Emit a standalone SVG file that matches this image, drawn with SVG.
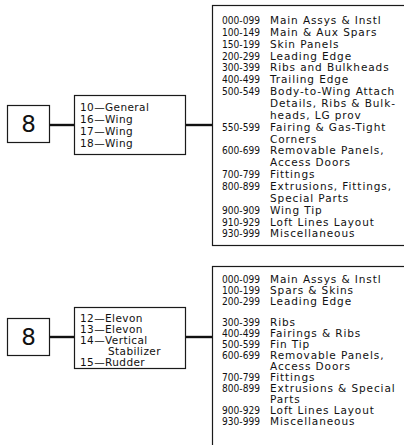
<svg xmlns="http://www.w3.org/2000/svg" width="404" height="445" viewBox="0 0 404 445">
<style>
.box{fill:#fff;stroke:#1a1a1a;stroke-width:1.2}
.con{stroke:#111;stroke-width:2.4;fill:none}
.t{font-family:"DejaVu Sans",sans-serif;font-size:10.5px;fill:#111;letter-spacing:0.9px}
.m{font-family:"DejaVu Sans",sans-serif;font-size:10.5px;fill:#111;letter-spacing:0.4px}
.n{font-family:"DejaVu Sans",sans-serif;font-size:10.5px;fill:#111}
.big{font-family:"DejaVu Sans",sans-serif;font-size:23px;fill:#111;text-anchor:middle}
</style>
<rect width="404" height="445" fill="#fff"/>
<g id="connectors">
<line class="con" x1="49" y1="125" x2="74" y2="125"/>
<line class="con" x1="186" y1="125" x2="212" y2="125"/>
<line class="con" x1="49" y1="337" x2="74" y2="337"/>
<line class="con" x1="186" y1="337" x2="212" y2="337"/>
</g>
<g id="n8a">
<rect class="box" x="7.5" y="105.5" width="42" height="37"/>
<text class="big" x="28.5" y="132">8</text>
</g>
<g id="groupsA">
<rect class="box" x="74.5" y="95.5" width="111" height="59"/>
<text class="m" x="80" y="111">10—General</text>
<text class="m" x="80" y="123">16—Wing</text>
<text class="m" x="80" y="135">17—Wing</text>
<text class="m" x="80" y="147">18—Wing</text>
</g>
<g id="rangesA">
<rect class="box" x="212.5" y="5.5" width="200" height="240"/>
<g class="n">
<text x="222" y="24" textLength="38" lengthAdjust="spacingAndGlyphs">000-099</text>
<text x="222" y="35.9" textLength="38" lengthAdjust="spacingAndGlyphs">100-149</text>
<text x="222" y="47.7" textLength="38" lengthAdjust="spacingAndGlyphs">150-199</text>
<text x="222" y="59.6" textLength="38" lengthAdjust="spacingAndGlyphs">200-299</text>
<text x="222" y="71.4" textLength="38" lengthAdjust="spacingAndGlyphs">300-399</text>
<text x="222" y="83.3" textLength="38" lengthAdjust="spacingAndGlyphs">400-499</text>
<text x="222" y="95.1" textLength="38" lengthAdjust="spacingAndGlyphs">500-549</text>
<text x="222" y="130.7" textLength="38" lengthAdjust="spacingAndGlyphs">550-599</text>
<text x="222" y="154.4" textLength="38" lengthAdjust="spacingAndGlyphs">600-699</text>
<text x="222" y="178.1" textLength="38" lengthAdjust="spacingAndGlyphs">700-799</text>
<text x="222" y="189.9" textLength="38" lengthAdjust="spacingAndGlyphs">800-899</text>
<text x="222" y="213.6" textLength="38" lengthAdjust="spacingAndGlyphs">900-909</text>
<text x="222" y="225.5" textLength="38" lengthAdjust="spacingAndGlyphs">910-929</text>
<text x="222" y="237.3" textLength="38" lengthAdjust="spacingAndGlyphs">930-999</text>
</g>
<g class="t">
<text x="270" y="24">Main Assys &amp; Instl</text>
<text x="270" y="35.9">Main &amp; Aux Spars</text>
<text x="270" y="47.7">Skin Panels</text>
<text x="270" y="59.6">Leading Edge</text>
<text x="270" y="71.4">Ribs and Bulkheads</text>
<text x="270" y="83.3">Trailing Edge</text>
<text x="270" y="95.1">Body-to-Wing Attach</text>
<text x="270" y="107">Details, Ribs &amp; Bulk-</text>
<text x="270" y="118.8">heads, LG prov</text>
<text x="270" y="130.7">Fairing &amp; Gas-Tight</text>
<text x="270" y="142.5">Corners</text>
<text x="270" y="154.4">Removable Panels,</text>
<text x="270" y="166.2">Access Doors</text>
<text x="270" y="178.1">Fittings</text>
<text x="270" y="189.9">Extrusions, Fittings,</text>
<text x="270" y="201.8">Special Parts</text>
<text x="270" y="213.6">Wing Tip</text>
<text x="270" y="225.5">Loft Lines Layout</text>
<text x="270" y="237.3">Miscellaneous</text>
</g>
</g>
<g id="n8b">
<rect class="box" x="7.5" y="318.5" width="42" height="37"/>
<text class="big" x="28.5" y="345">8</text>
</g>
<g id="groupsB">
<rect class="box" x="74.5" y="307.5" width="111" height="61"/>
<text class="m" x="80" y="322">12—Elevon</text>
<text class="m" x="80" y="333">13—Elevon</text>
<text class="m" x="80" y="344">14—Vertical</text>
<text class="m" x="108" y="355">Stabilizer</text>
<text class="m" x="80" y="366">15—Rudder</text>
</g>
<g id="rangesB">
<rect class="box" x="212.5" y="266.5" width="200" height="190"/>
<g class="n">
<text x="222" y="283" textLength="38" lengthAdjust="spacingAndGlyphs">000-099</text>
<text x="222" y="294" textLength="38" lengthAdjust="spacingAndGlyphs">100-199</text>
<text x="222" y="305" textLength="38" lengthAdjust="spacingAndGlyphs">200-299</text>
<text x="222" y="326" textLength="38" lengthAdjust="spacingAndGlyphs">300-399</text>
<text x="222" y="337" textLength="38" lengthAdjust="spacingAndGlyphs">400-499</text>
<text x="222" y="348" textLength="38" lengthAdjust="spacingAndGlyphs">500-599</text>
<text x="222" y="359" textLength="38" lengthAdjust="spacingAndGlyphs">600-699</text>
<text x="222" y="381" textLength="38" lengthAdjust="spacingAndGlyphs">700-799</text>
<text x="222" y="392" textLength="38" lengthAdjust="spacingAndGlyphs">800-899</text>
<text x="222" y="414" textLength="38" lengthAdjust="spacingAndGlyphs">900-929</text>
<text x="222" y="425" textLength="38" lengthAdjust="spacingAndGlyphs">930-999</text>
</g>
<g class="t">
<text x="270" y="283">Main Assys &amp; Instl</text>
<text x="270" y="294">Spars &amp; Skins</text>
<text x="270" y="305">Leading Edge</text>
<text x="270" y="326">Ribs</text>
<text x="270" y="337">Fairings &amp; Ribs</text>
<text x="270" y="348">Fin Tip</text>
<text x="270" y="359">Removable Panels,</text>
<text x="270" y="370">Access Doors</text>
<text x="270" y="381">Fittings</text>
<text x="270" y="392">Extrusions &amp; Special</text>
<text x="270" y="403">Parts</text>
<text x="270" y="414">Loft Lines Layout</text>
<text x="270" y="425">Miscellaneous</text>
</g>
</g>
</svg>
